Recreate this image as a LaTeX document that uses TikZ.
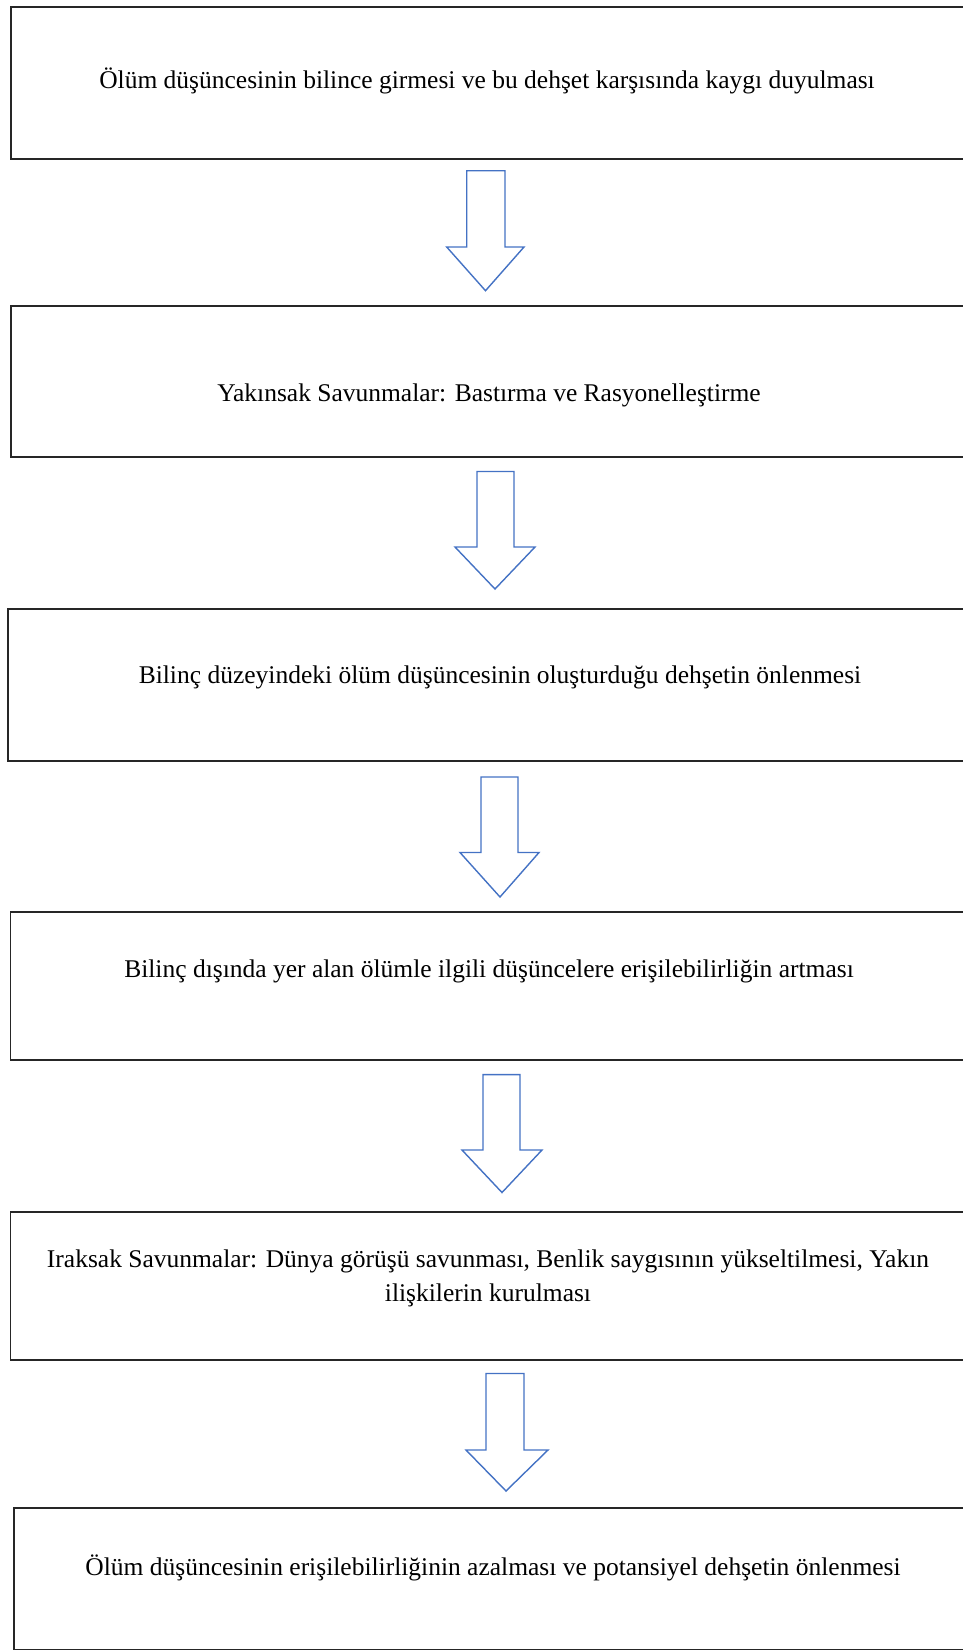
\documentclass[tikz,border=0pt]{standalone}
\usepackage{fontspec}
\setmainfont{Liberation Serif}
\begin{document}
\begin{tikzpicture}[x=1pt,y=-1pt,
  box/.style={draw=black!85,line width=1.8pt,fill=none,rectangle,anchor=north west,inner sep=0pt},
  lbl/.style={font=\fontsize{25.5}{34}\selectfont,text=black,align=center,inner sep=0pt},
  barrow/.style={color={rgb,255:red,68;green,114;blue,196},line width=1.4pt,fill=white,line join=miter}]
\useasboundingbox (0,0) rectangle (963,1650);
\clip (0,0) rectangle (963,1650);
% boxes
\node[box,minimum width=960pt,minimum height=152pt] (b1) at (10,6) {};
\node[box,minimum width=960pt,minimum height=151pt] (b2) at (10,305) {};
\node[box,minimum width=960pt,minimum height=152pt] (b3) at (7,608) {};
\node[box,minimum width=960pt,minimum height=148pt] (b4) at (9.5,911) {};
\node[box,minimum width=960pt,minimum height=148pt] (b5) at (9.5,1211) {};
\node[box,minimum width=960pt,minimum height=142pt] (b6) at (13,1507) {};
% labels
\node[lbl] (t1) at (487,81) {Ölüm düşüncesinin bilince girmesi ve bu dehşet karşısında kaygı duyulması};
\node[lbl] (t2) at (489,395) {Yakınsak Savunmalar: Bastırma ve Rasyonelleştirme};
\node[lbl] (t3) at (500,677) {Bilinç düzeyindeki ölüm düşüncesinin oluşturduğu dehşetin önlenmesi};
\node[lbl] (t4) at (489,971) {Bilinç dışında yer alan ölümle ilgili düşüncelere erişilebilirliğin artması};
\node[lbl] (t5) at (488,1278) {Iraksak Savunmalar: Dünya görüşü savunması, Benlik saygısının yükseltilmesi, Yakın\\ilişkilerin kurulması};
\node[lbl] (t6) at (493,1568) {Ölüm düşüncesinin erişilebilirliğinin azalması ve potansiyel dehşetin önlenmesi};
% block arrows
\draw[barrow] (466.7,170.7) -- (505,170.7) -- (505,247) -- (524,247) -- (485.5,290.7) -- (446.7,247) -- (466.7,247) -- cycle;
\draw[barrow] (477,471.5) -- (514,471.5) -- (514,547) -- (535,547) -- (495,589) -- (455,547) -- (477,547) -- cycle;
\draw[barrow] (481,777) -- (518,777) -- (518,852.5) -- (539,852.5) -- (500,897) -- (460,852.5) -- (481,852.5) -- cycle;
\draw[barrow] (483,1074.6) -- (520,1074.6) -- (520,1150) -- (542,1150) -- (502,1192.5) -- (462,1150) -- (483,1150) -- cycle;
\draw[barrow] (486,1373.5) -- (524,1373.5) -- (524,1450) -- (548,1450) -- (506,1491) -- (466,1450) -- (486,1450) -- cycle;
\end{tikzpicture}
\end{document}
